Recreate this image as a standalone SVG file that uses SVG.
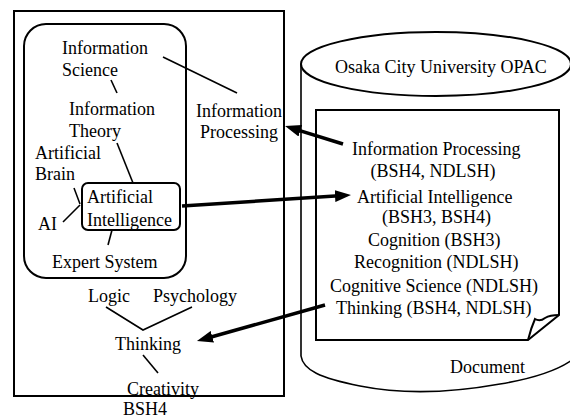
<svg xmlns="http://www.w3.org/2000/svg" width="570" height="419" viewBox="0 0 570 419">
<style>
text{font-size:18px;fill:#000}
.box{fill:none;stroke:#000;stroke-width:2}
.thin{fill:none;stroke:#000;stroke-width:1.6}
.cyl{fill:none;stroke:#000;stroke-width:1.6}
.arr{fill:none;stroke:#000;stroke-width:3.5}
</style>
<defs>
<marker id="ah" markerUnits="userSpaceOnUse" markerWidth="16" markerHeight="12" refX="4" refY="6" orient="auto">
<path d="M0,0 L16,6 L0,12 z" fill="#000"/>
</marker>
</defs>
<rect width="570" height="419" fill="#fff"/>

<g id="bsh4">
<rect class="box" x="14" y="11" width="270" height="385"/>
<text x="123" y="415" font-family="Liberation Serif">BSH4</text>
</g>

<g id="info-science-group">
<rect class="box" x="24" y="24" width="162" height="254" rx="22" ry="22"/>
</g>

<g id="information-science">
<text x="62" y="54" font-family="Liberation Serif">Information</text>
<text x="62" y="76" font-family="Liberation Serif">Science</text>
</g>
<g id="information-theory">
<text x="69" y="115" font-family="Liberation Serif">Information</text>
<text x="69" y="137" font-family="Liberation Serif">Theory</text>
</g>
<g id="information-processing">
<text x="196" y="117" font-family="Liberation Serif">Information</text>
<text x="200" y="138" font-family="Liberation Serif">Processing</text>
</g>
<g id="artificial-brain">
<text x="35" y="159" font-family="Liberation Serif">Artificial</text>
<text x="35" y="180" font-family="Liberation Serif">Brain</text>
</g>
<g id="artificial-intelligence">
<rect class="box" x="82" y="183" width="98" height="47" rx="6" ry="6"/>
<text x="87" y="203" font-family="Liberation Serif">Artificial</text>
<text x="87" y="226" font-family="Liberation Serif">Intelligence</text>
</g>
<g id="ai">
<text x="38" y="230" font-family="Liberation Serif">AI</text>
</g>
<g id="expert-system">
<text x="52" y="268" font-family="Liberation Serif">Expert System</text>
</g>
<g id="logic">
<text x="88" y="302" font-family="Liberation Serif">Logic</text>
</g>
<g id="psychology">
<text x="153" y="302" font-family="Liberation Serif">Psychology</text>
</g>
<g id="thinking">
<text x="115" y="350" font-family="Liberation Serif">Thinking</text>
</g>
<g id="creativity">
<text x="127" y="395" font-family="Liberation Serif">Creativity</text>
</g>

<g id="opac">
<path class="cyl" d="M301,64 V356 C303,370 320,378 360,386 C400,394 450,393 500,384 C530,379 555,372 572,360"/>
<ellipse class="box" cx="436" cy="64" rx="135" ry="32"/>
<text x="335" y="73" font-family="Liberation Serif">Osaka City University OPAC</text>
<text x="450" y="373" font-family="Liberation Serif">Document</text>
</g>

<g id="document">
<path class="box" d="M316,110 H559 V315 L528,340 H316 Z"/>
<path class="box" d="M528,340 Q531,328 535,319 Q540,322 545,318 Q550,315 559,315"/>
<text x="352" y="155" font-family="Liberation Serif">Information Processing</text>
<text x="370.5" y="177" font-family="Liberation Serif">(BSH4, NDLSH)</text>
<text x="357" y="203" font-family="Liberation Serif">Artificial Intelligence</text>
<text x="382" y="223" font-family="Liberation Serif">(BSH3, BSH4)</text>
<text x="368" y="246" font-family="Liberation Serif">Cognition (BSH3)</text>
<text x="354" y="268" font-family="Liberation Serif">Recognition (NDLSH)</text>
<text x="330" y="292" font-family="Liberation Serif">Cognitive Science (NDLSH)</text>
<text x="336" y="314" font-family="Liberation Serif">Thinking (BSH4, NDLSH)</text>
</g>

<g id="connectors">
<path class="thin" d="M163,57 L237,93"/>
<path class="thin" d="M111,80 L117,93"/>
<path class="thin" d="M117,143 L133,183"/>
<path class="thin" d="M74,188 L80,204"/>
<path class="thin" d="M63,222 L80,205"/>
<path class="thin" d="M112,230 L108,245"/>
<path class="thin" d="M106,307 L143,330 L192,307"/>
<path class="thin" d="M143,355 L158,373"/>
<path class="arr" d="M343,144 L296.5,129.6" marker-end="url(#ah)"/>
<path class="arr" d="M182,206 L339,195.8" marker-end="url(#ah)"/>
<path class="arr" d="M325,305 L208.5,337.8" marker-end="url(#ah)"/>
</g>
</svg>
